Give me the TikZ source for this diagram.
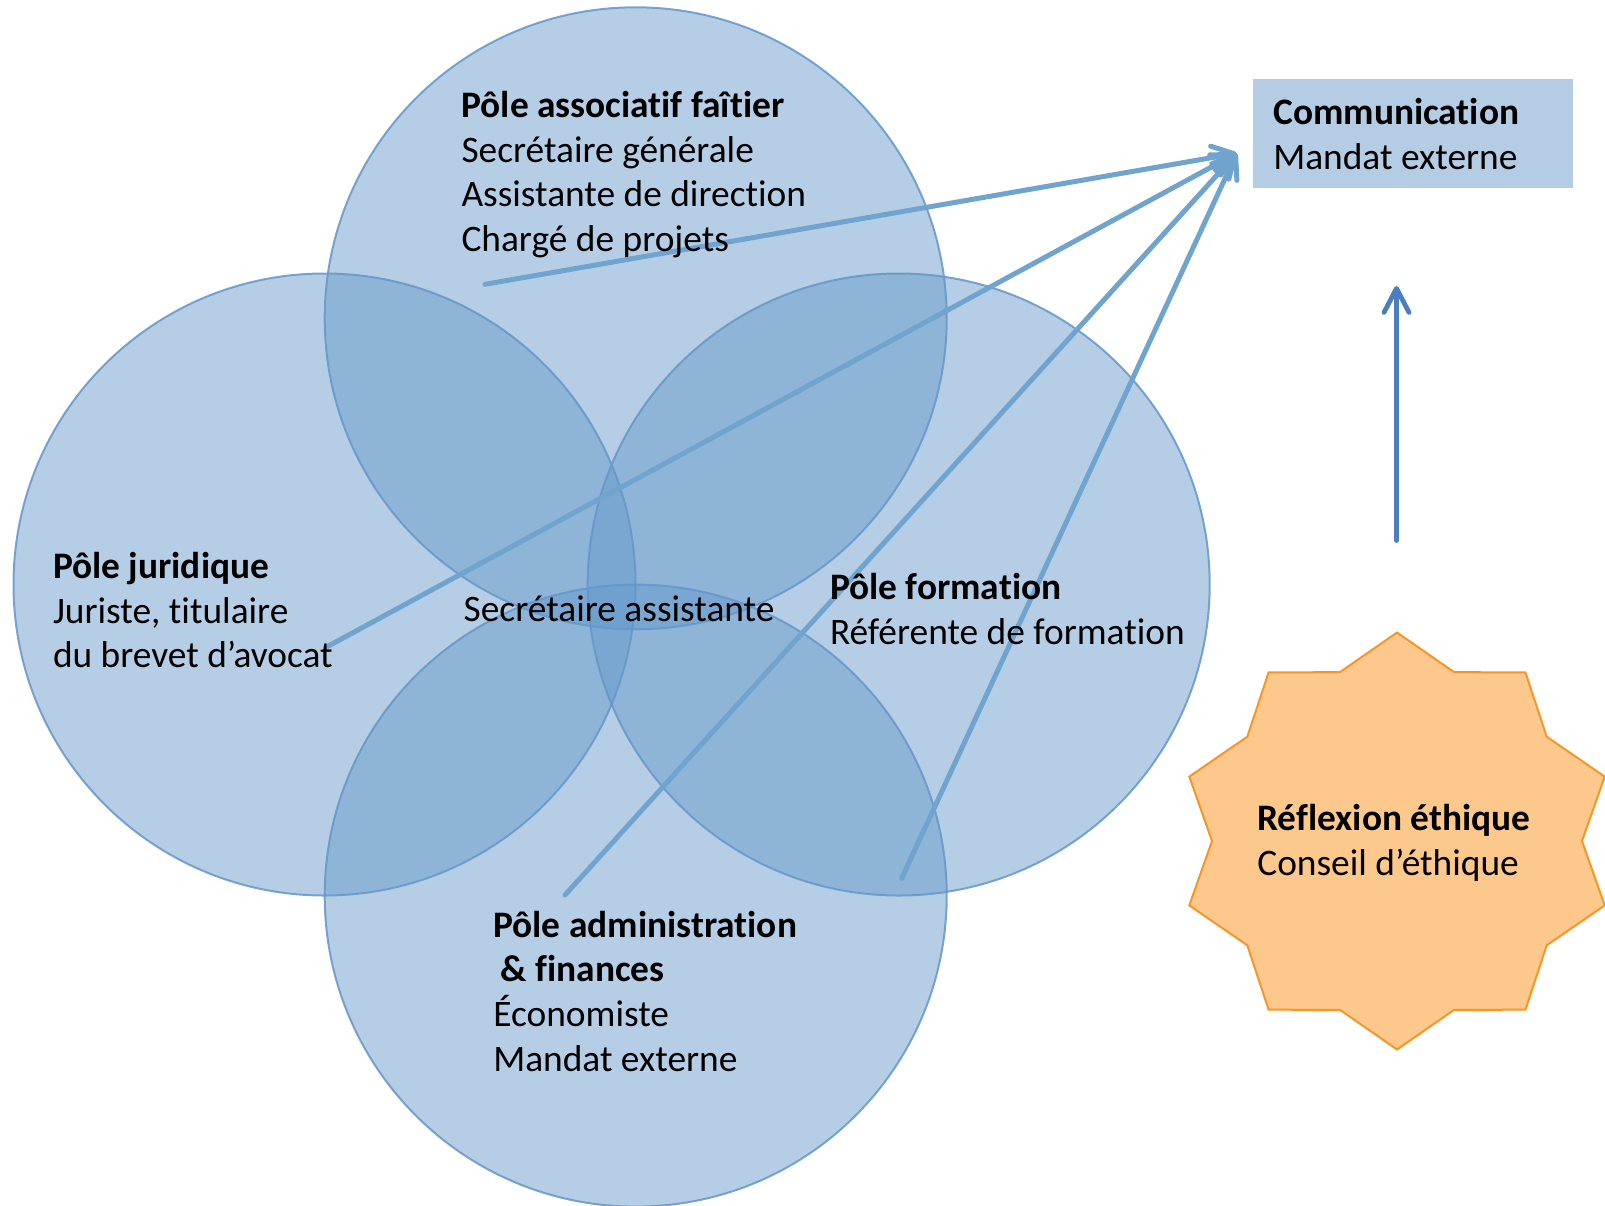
\documentclass[tikz,border=0pt]{standalone}
\usepackage{fontspec}
\setmainfont{Carlito}[Ligatures=NoCommon]
\usetikzlibrary{arrows.meta}
\definecolor{vennfill}{RGB}{100,152,202}
\definecolor{vennline}{RGB}{100,150,200}
\definecolor{arrowblue}{RGB}{112,164,207}
\definecolor{darkarrow}{RGB}{74,126,193}
\definecolor{boxfill}{RGB}{180,205,228}
\definecolor{starfill}{RGB}{253,200,140}
\definecolor{starline}{RGB}{247,150,40}
\begin{document}
\begin{tikzpicture}[x=0.5pt,y=-0.5pt,
  venn/.style={circle, draw=vennline, draw opacity=0.85, fill=vennfill, fill opacity=0.48,
    minimum size=311pt, inner sep=0pt, outer sep=0pt, line width=1pt},
  lbl/.style={anchor=base west, inner sep=0pt, outer sep=0pt, align=left,
    font=\fontsize{18.7pt}{22.4pt}\selectfont},
  link/.style={draw=arrowblue, line width=2.5pt, line cap=round,
    -{Straight Barb[length=11pt,width=11.5pt,round]}},
  uplink/.style={draw=darkarrow, line width=2.4pt, line cap=round,
    -{Straight Barb[length=12pt,width=12.5pt,round]}}]
\useasboundingbox (0,0) rectangle (1605,1205);
% Venn circles
\node[venn] (ctop) at (635.7,318.3) {};
\node[venn] (cleft) at (324.5,584.5) {};
\node[venn] (cright) at (898.7,584.5) {};
\node[venn] (cbot) at (635.7,895.6) {};
% Communication box
\fill[boxfill] (1252.7,79) rectangle (1572.7,188.3);
% star
\draw[fill=starfill, draw=starline, line width=1pt, line join=miter]
  (1397,632.5) -- (1454.2,672.2) -- (1525.4,672.3) -- (1546.7,736.7) --
  (1604.7,776.6) -- (1582,841) -- (1604.7,905.4) -- (1546.7,945.3) --
  (1525.4,1009.7) -- (1454.2,1009.8) -- (1397,1049.5) -- (1339.8,1009.8) --
  (1268.6,1009.7) -- (1247.3,945.3) -- (1189.3,905.4) -- (1212,841) --
  (1189.3,776.6) -- (1247.3,736.7) -- (1268.6,672.3) -- (1339.8,672.2) -- cycle;
% connectors
\coordinate (ctip) at (1236.7,153.3);
\coordinate (s1) at (485,284.3);
\coordinate (s2) at (326,647.3);
\coordinate (s3) at (565,895);
\coordinate (s4) at (901.7,878.3);
\draw[link] (s1) -- (ctip);
\draw[link] (s2) -- (ctip);
\draw[link] (s3) -- (ctip);
\draw[link] (s4) -- (ctip);
\coordinate (ubot) at (1396.5,540.5);
\coordinate (utop) at (1396.5,286);
\draw[uplink] (ubot) -- (utop);
% texts (anchored at the baseline of their last line)
\node[lbl] (ttop) at (461.5,251.7) {\textbf{Pôle associatif faîtier}\\Secrétaire générale\\Assistante de direction\\Chargé de projets};
\node[lbl] (tleft) at (53,667.8) {\textbf{Pôle juridique}\\Juriste, titulaire\\du brevet d’avocat};
\node[lbl] (tmid) at (463.7,621.7) {Secrétaire assistante};
\node[lbl] (tright) at (830,644) {\textbf{Pôle formation}\\Référente de formation};
\node[lbl] (tbot) at (493.3,1071.4) {\textbf{Pôle administration}\\\hspace*{0.2em}\textbf{\& finances}\\Économiste\\Mandat externe};
\node[lbl] (tcomm) at (1273.3,169.5) {\textbf{Communication}\\Mandat externe};
\node[lbl] (tstar) at (1257.3,875.6) {\textbf{Réflexion éthique}\\Conseil d’éthique};
\end{tikzpicture}
\end{document}
